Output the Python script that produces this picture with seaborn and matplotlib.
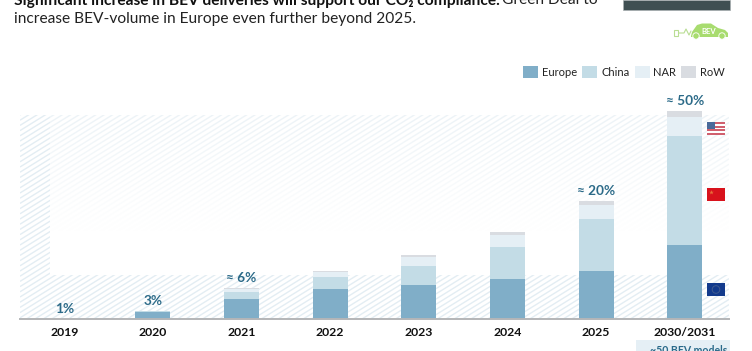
import numpy as np
import pandas as pd
import seaborn as sns
import matplotlib
matplotlib.use("Agg")
import matplotlib.pyplot as plt
from matplotlib.patches import Rectangle, Circle, Polygon
from matplotlib.collections import LineCollection

years = ["2019", "2020", "2021", "2022", "2023", "2024", "2025", "2030/2031"]
europe = [0, 7, 20, 30, 34, 40, 48, 74]
china = [0, 0.6, 7, 12, 19, 32, 52, 109]
nar = [0, 0.3, 3, 5, 9, 12, 14, 19]
row = [0, 0.1, 1, 1.5, 2, 3, 4, 6]
share_labels = ["1%", "3%", "≈ 6%", "", "", "", "≈ 20%", "≈ 50%"]
regions = ["Europe", "China", "NAR", "RoW"]
colors = ["#80aec8", "#c3dce6", "#e5eff5", "#d9dce1"]

sns.set_theme(style="white")
plt.rcParams["font.family"] = ["Lato", "DejaVu Sans"]

W, H = 752, 351
fig = plt.figure(figsize=(W / 100, H / 100), dpi=100, facecolor="white")

# pixel-space backdrop
bg = fig.add_axes([0, 0, 1, 1], zorder=0)
bg.set_xlim(0, W)
bg.set_ylim(H, 0)
bg.axis("off")


def hatch(x0, y0, x1, y1, color, lw=1.0):
    spacing, slope = 5.2, 0.62
    segs = []
    c = y0
    while c < y1 + slope * (x1 - x0) + spacing:
        segs.append([(x0, c), (x1, c - slope * (x1 - x0))])
        c += spacing
    lc = LineCollection(segs, colors=color, linewidths=lw, zorder=1)
    bg.add_collection(lc)
    lc.set_clip_path(Rectangle((x0, y0), x1 - x0, y1 - y0, transform=bg.transData))


hatch(20, 115, 729, 319, "#e3edf3", 1.0)
# fade of the inner panel
grad = np.ones((256, 1, 4))
grad[:, 0, 3] = np.clip(np.linspace(0.35, 1.25, 256), 0, 1)
bg.imshow(grad, extent=(50, 729, 275, 115), aspect="auto", zorder=2, interpolation="bilinear")
bg.set_xlim(0, W)
bg.set_ylim(H, 0)

# heading (first line cut by the image edge)
bg.text(14, 4.5, "Significant increase in BEV deliveries will support our CO₂ compliance.",
        fontsize=11.2, fontweight="bold", color="#111111", va="baseline")
bg.text(502, 4.5, "Green Deal to", fontsize=11.2, color="#222222", va="baseline")
bg.text(14, 23, "increase BEV-volume in Europe even further beyond 2025.",
        fontsize=11.2, color="#222222", va="baseline")

# top-right dark block
bg.add_patch(Rectangle((623, 0), 107, 9.5, fc="#3f4f52", ec="#a9b0b2", lw=0.5, zorder=3))

# BEV car icon
green = "#a8dc6f"
bg.add_patch(Polygon([(691, 36), (692, 32), (697, 25), (702, 23.5), (711, 23.5), (718, 28),
                      (725, 30), (728, 33), (728, 37), (691, 37)], fc=green, ec="none", zorder=3))
bg.add_patch(Circle((696, 36), 3.2, fc=green, ec="white", lw=0.6, zorder=4))
bg.add_patch(Circle((722, 36), 3.2, fc=green, ec="white", lw=0.6, zorder=4))
bg.plot([678, 684, 686, 689, 691], [33, 33, 29, 35, 31], color="#b9dd93", lw=0.8, zorder=3)
bg.add_patch(Rectangle((674, 30), 4, 6, fc="white", ec="#b9dd93", lw=0.8, zorder=3))
bg.text(709, 31, "BEV", fontsize=5.5, fontweight="bold", color="white", ha="center", va="center", zorder=5)

# flags
fx, fw, fh = 707, 18, 13
bg.add_patch(Rectangle((fx, 122), fw, fh, fc="white", ec="none", zorder=3))
for i in range(0, 7, 2):
    bg.add_patch(Rectangle((fx, 122 + i * fh / 7), fw, fh / 7, fc="#d0606e", ec="none", zorder=3))
bg.add_patch(Rectangle((fx, 122), fw * 0.42, fh * 0.5, fc="#4a6a9a", ec="none", zorder=4))
bg.add_patch(Rectangle((fx, 188), fw, fh, fc="#d8121c", ec="none", zorder=3))
bg.plot([fx + 4], [192], marker="*", ms=3.5, color="#e8703a", mew=0, zorder=4)
bg.add_patch(Rectangle((fx, 283), fw, fh, fc="#123a8c", ec="none", zorder=3))
bg.add_patch(Circle((fx + fw / 2, 289.5), 3.8, fc="none", ec="#3f5a8f", lw=0.7, zorder=4))

# bottom clipped box
bg.add_patch(Rectangle((636, 340), 94, 12, fc="#e5eff5", ec="none", zorder=3))
bg.text(689, 353.5, "~50 BEV models", fontsize=7.6, fontweight="bold", color="#2a6a8a",
        ha="center", va="baseline", zorder=4)

# main chart: 1 y-unit equals one pixel of bar height
ax = fig.add_axes([20 / W, (H - 319) / H, 709 / W, 229 / H], zorder=1)
ax.patch.set_alpha(0)

df = pd.DataFrame({"year": years, "Europe": europe, "China": china, "NAR": nar, "RoW": row})
cum = df[regions].cumsum(axis=1)
cum["year"] = df["year"]
for region, color in reversed(list(zip(regions, colors))):
    sns.barplot(data=cum, x="year", y=region, order=years, color=color, saturation=1,
                width=0.395, errorbar=None, ax=ax, label=region, linewidth=0)

ax.set_xlim(-0.5, 7.5)
ax.set_ylim(0, 229)
ax.set_xlabel("")
ax.set_ylabel("")
ax.set_yticks([])
for s in ["top", "left", "right"]:
    ax.spines[s].set_visible(False)
ax.spines["bottom"].set_color("#b4b6b8")
ax.spines["bottom"].set_linewidth(1.4)
ax.tick_params(axis="x", length=0, pad=6)
for t in ax.get_xticklabels():
    t.set_fontweight("bold")
    t.set_fontsize(8.8)
    t.set_color("#111111")

totals = cum["RoW"].to_numpy()
for i, (lab, tot) in enumerate(zip(share_labels, totals)):
    if lab:
        ax.annotate(lab, (i, tot), xytext=(0, 4.6), textcoords="offset points",
                    ha="center", va="baseline", fontsize=9.8, fontweight="bold",
                    color="#2b6a88", annotation_clip=False)

handles, labels = ax.get_legend_handles_labels()
order = [labels.index(r) for r in regions]
ax.legend([handles[i] for i in order], regions, ncol=4, frameon=False,
          loc="lower right", bbox_to_anchor=(705 / 709, (319 - 78) / 229),
          bbox_transform=ax.transAxes, borderaxespad=0, borderpad=0,
          fontsize=8.0, handlelength=1.35, handleheight=1.25,
          handletextpad=0.35, columnspacing=0.45, labelcolor="#222222")

fig.savefig("out.png", dpi=100, facecolor="white")
